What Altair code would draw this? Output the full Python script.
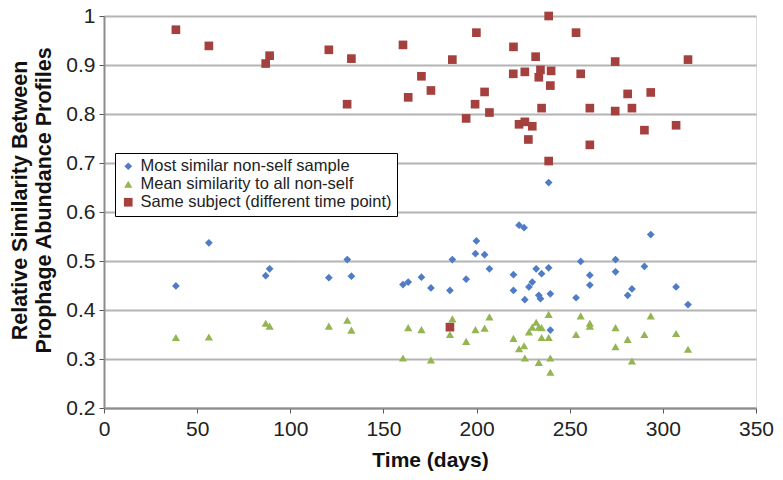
import altair as alt
import pandas as pd

# Series: Most similar non-self sample (blue diamonds)
blue_x = [38.6, 56.3, 86.8, 88.9, 120.7, 130.6, 132.8, 160.5, 163.3, 170.4, 175.5, 185.7, 187, 194.4,
          199.4, 199.9, 204.3, 206.9, 219.8, 219.8, 222.8, 225.5, 225.9, 228.1, 229.9, 232, 233.4, 234.3,
          234.9, 238.7, 238.7, 239.6, 239.6, 253.4, 255.9, 260.8, 260.8, 274.6, 274.6, 281.1, 283.4,
          290.1, 293.5, 307.1, 313.5]
blue_y = [0.449, 0.537, 0.470, 0.484, 0.466, 0.503, 0.469, 0.452, 0.457, 0.467, 0.445, 0.440, 0.503, 0.463,
          0.515, 0.541, 0.513, 0.484, 0.472, 0.440, 0.573, 0.568, 0.421, 0.447, 0.457, 0.484, 0.430, 0.423,
          0.474, 0.486, 0.660, 0.433, 0.359, 0.425, 0.499, 0.471, 0.451, 0.503, 0.478, 0.430, 0.443,
          0.489, 0.554, 0.447, 0.411]

# Series: Mean similarity to all non-self (green triangles)
green_x = [38.6, 56.3, 86.8, 88.9, 120.7, 130.6, 132.8, 160.5, 163.3, 170.4, 175.5, 185.7, 187, 194.4,
           199.4, 204.3, 206.9, 219.8, 222.8, 225.5, 225.9, 228.1, 229.9, 232, 233.4, 233.4, 234.9, 234.9,
           238.7, 238.7, 239.6, 239.6, 253.4, 255.9, 260.8, 260.8, 274.6, 274.6, 281.1, 283.4, 290.1,
           293.5, 307.1, 313.5]
green_y = [0.344, 0.345, 0.373, 0.367, 0.367, 0.379, 0.359, 0.302, 0.364, 0.360, 0.298, 0.350, 0.382, 0.336,
           0.360, 0.363, 0.386, 0.342, 0.321, 0.327, 0.302, 0.355, 0.365, 0.375, 0.365, 0.293, 0.364, 0.344,
           0.391, 0.344, 0.302, 0.273, 0.350, 0.388, 0.373, 0.367, 0.364, 0.325, 0.340, 0.296, 0.350,
           0.388, 0.352, 0.320]

# Series: Same subject (different time point) (red squares)
red_x = [38.6, 56.3, 86.8, 88.9, 120.7, 130.5, 132.8, 160.5, 163.3, 170.4, 175.5, 185.7, 187, 194.4,
         199.2, 199.9, 204.3, 206.9, 219.7, 219.8, 222.8, 225.9, 225.9, 227.8, 229.9, 231.7, 233.4, 234.3,
         234.9, 238.7, 238.7, 239.6, 240, 253.4, 255.9, 260.8, 260.8, 274.4, 274.4, 281.1, 283.4, 290.1,
         293.5, 307.1, 313.5]
red_y = [0.972, 0.939, 0.903, 0.919, 0.931, 0.820, 0.913, 0.941, 0.834, 0.877, 0.848, 0.365, 0.911, 0.791,
         0.820, 0.966, 0.845, 0.803, 0.882, 0.937, 0.779, 0.886, 0.784, 0.748, 0.775, 0.917, 0.875, 0.890,
         0.812, 1.0, 0.704, 0.858, 0.888, 0.966, 0.882, 0.812, 0.737, 0.907, 0.806, 0.841, 0.812, 0.767,
         0.844, 0.777, 0.911]

series_names = ["Most similar non-self sample", "Mean similarity to all non-self",
                "Same subject (different time point)"]
series_colors = ["#4F7CC4", "#93B552", "#A4403D"]
series_shapes = ["diamond", "triangle-up", "square"]
series_sizes = [60, 75, 85]

x_ticks = [0, 50, 100, 150, 200, 250, 300, 350]
y_ticks = [0.2, 0.3, 0.4, 0.5, 0.6, 0.7, 0.8, 0.9, 1.0]

rows = []
for name, xs, ys in zip(series_names, [blue_x, green_x, red_x], [blue_y, green_y, red_y]):
    for xv, yv in zip(xs, ys):
        rows.append({"Time": xv, "Similarity": yv, "Series": name})
df = pd.DataFrame(rows)

FONT = "Liberation Sans"

chart = alt.Chart(df).mark_point(filled=True, opacity=1).encode(
    x=alt.X("Time:Q",
            scale=alt.Scale(domain=[0, 350], nice=False, zero=False),
            axis=alt.Axis(title="Time (days)", values=x_ticks, grid=False, format="d",
                          labelFontSize=21, labelColor="#222", labelPadding=5, labelFlush=False,
                          titleFontSize=21, titleFontWeight="bold", titleColor="#111", titlePadding=10,
                          domainColor="#8c8c8c", domainWidth=2, tickColor="#555", tickSize=5)),
    y=alt.Y("Similarity:Q",
            scale=alt.Scale(domain=[0.2, 1.0], nice=False, zero=False),
            axis=alt.Axis(title=["Relative Similarity Between", "Prophage Abundance Profiles"],
                          values=y_ticks, labelExpr="format(datum.value, '~g')",
                          labelFontSize=21, labelColor="#222", labelPadding=4, labelFlush=False,
                          titleFontSize=21.5, titleFontWeight="bold", titleColor="#111", titlePadding=10,
                          titleLineHeight=24, titleY=184,
                          grid=True, gridColor="#b4b4b4", gridWidth=2,
                          domainColor="#8c8c8c", domainWidth=2, tickColor="#555", tickSize=5)),
    color=alt.Color("Series:N", scale=alt.Scale(domain=series_names, range=series_colors),
                    legend=alt.Legend(title=None, orient="none", legendX=11, legendY=137,
                                      strokeColor="#000", fillColor="#fff", padding=5,
                                      labelFontSize=16.5, labelColor="#222", symbolSize=45,
                                      rowPadding=1, labelLimit=400, symbolStrokeWidth=0)),
    shape=alt.Shape("Series:N", scale=alt.Scale(domain=series_names, range=series_shapes)),
    size=alt.Size("Series:N", scale=alt.Scale(domain=series_names, range=series_sizes), legend=None),
).properties(
    width=652, height=392,
    autosize=alt.AutoSizeParams(type="none"),
    padding={"left": 96, "top": 8, "right": 19, "bottom": 64},
).configure_view(strokeWidth=0).configure(font=FONT)

chart.save("out.html", embed_options={"renderer": "svg", "actions": False})
